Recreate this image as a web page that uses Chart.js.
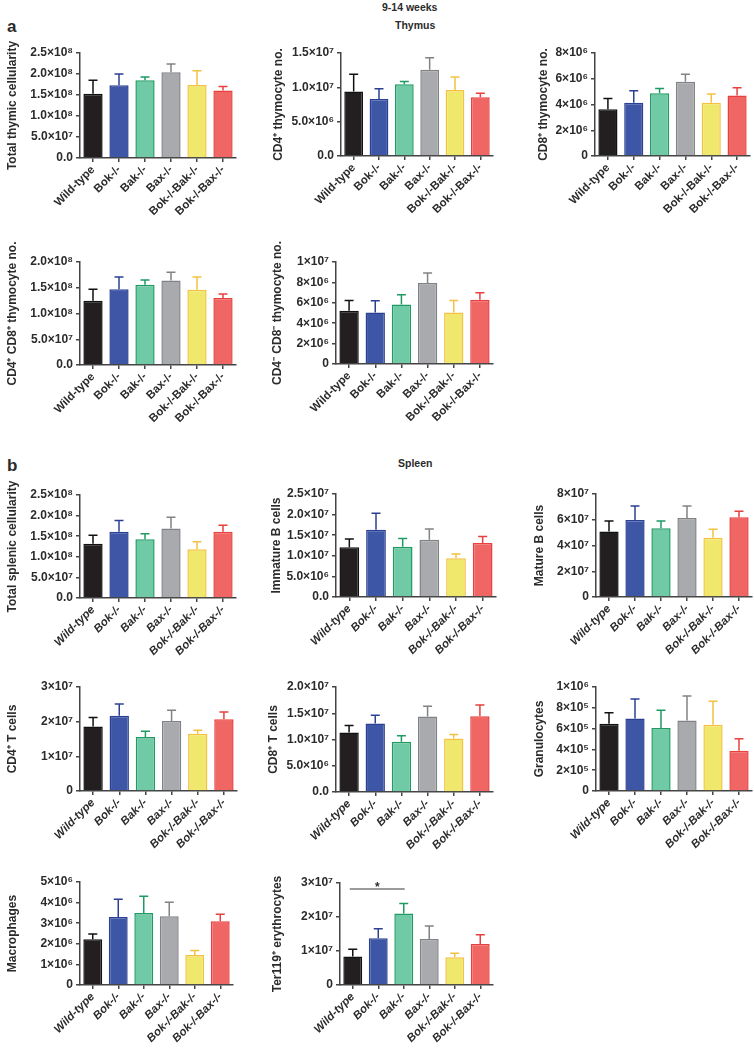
<!DOCTYPE html>
<html>
<head>
<meta charset="utf-8">
<script src="https://cdn.jsdelivr.net/npm/chart.js@4.4.1/dist/chart.umd.min.js"></script>
<style>
  body { margin: 0; background: #fff; width: 754px; height: 1049px; position: relative; overflow: hidden;
         font-family: "Liberation Sans", Arial, sans-serif; }
  .panel { position: absolute; }
  .lbl { position: absolute; font-weight: bold; color: #2b2b2b; line-height: 1; white-space: nowrap; }
</style>
</head>
<body>
<div class="lbl" style="left:7px;top:18px;font-size:17px;">a</div>
<div class="lbl" style="left:382px;top:2px;font-size:10.5px;">9-14 weeks</div>
<div class="lbl" style="left:395px;top:20px;font-size:10.5px;">Thymus</div>
<div class="lbl" style="left:7px;top:457px;font-size:17px;">b</div>
<div class="lbl" style="left:398px;top:458px;font-size:10.5px;">Spleen</div>

<script>
// ---- data ----
const genotypes = ["Wild-type", "Bok-/-", "Bak-/-", "Bax-/-", "Bok-/-Bak-/-", "Bok-/-Bax-/-"];

// a: thymus
const thymusTotalMean = [1.53e8, 1.73e8, 1.85e8, 2.04e8, 1.74e8, 1.61e8];
const thymusTotalSem  = [0.32e8, 0.27e8, 0.08e8, 0.2e8, 0.34e8, 0.09e8];
const thymusTotalTicks = ["0.0", "5.0×10⁷", "1.0×10⁸", "1.5×10⁸", "2.0×10⁸", "2.5×10⁸"];

const thymusCd4Mean = [0.94e7, 0.83e7, 1.045e7, 1.255e7, 0.96e7, 0.855e7];
const thymusCd4Sem  = [0.25e7, 0.15e7, 0.04e7, 0.175e7, 0.19e7, 0.06e7];
const thymusCd4Ticks = ["0.0", "5.0×10⁶", "1.0×10⁷", "1.5×10⁷"];

const thymusCd8Mean = [3.64e6, 4.13e6, 4.88e6, 5.77e6, 4.13e6, 4.70e6];
const thymusCd8Sem  = [0.83e6, 0.93e6, 0.37e6, 0.57e6, 0.68e6, 0.60e6];
const thymusCd8Ticks = ["0", "2×10⁶", "4×10⁶", "6×10⁶", "8×10⁶"];

const thymusDpMean = [1.25e8, 1.47e8, 1.56e8, 1.64e8, 1.46e8, 1.30e8];
const thymusDpSem  = [0.22e8, 0.24e8, 0.09e8, 0.16e8, 0.25e8, 0.08e8];
const thymusDpTicks = ["0.0", "5.0×10⁷", "1.0×10⁸", "1.5×10⁸", "2.0×10⁸"];

const thymusDnMean = [5.23e6, 5.06e6, 5.84e6, 7.95e6, 5.06e6, 6.30e6];
const thymusDnSem  = [1.0e6, 1.14e6, 0.95e6, 0.98e6, 1.17e6, 0.68e6];
const thymusDnTicks = ["0", "2×10⁶", "4×10⁶", "6×10⁶", "8×10⁶", "1×10⁷"];

// b: spleen
const spleenTotalMean = [1.315e8, 1.605e8, 1.427e8, 1.685e8, 1.185e8, 1.605e8];
const spleenTotalSem  = [0.21e8, 0.275e8, 0.13e8, 0.275e8, 0.18e8, 0.16e8];
const spleenTotalTicks = ["0.0", "5.0×10⁷", "1.0×10⁸", "1.5×10⁸", "2.0×10⁸", "2.5×10⁸"];

const immBMean = [1.205e7, 1.634e7, 1.222e7, 1.392e7, 0.938e7, 1.31e7];
const immBSem  = [0.2e7, 0.4e7, 0.2e7, 0.26e7, 0.106e7, 0.16e7];
const immBTicks = ["0.0", "5.0×10⁶", "1.0×10⁷", "1.5×10⁷", "2.0×10⁷", "2.5×10⁷"];

const matBMean = [5.08e7, 5.98e7, 5.34e7, 6.14e7, 4.61e7, 6.19e7];
const matBSem  = [0.82e7, 1.09e7, 0.56e7, 0.93e7, 0.65e7, 0.47e7];
const matBTicks = ["0", "2×10⁷", "4×10⁷", "6×10⁷", "8×10⁷"];

const cd4TMean = [1.86e7, 2.17e7, 1.56e7, 2.02e7, 1.65e7, 2.07e7];
const cd4TSem  = [0.26e7, 0.34e7, 0.16e7, 0.31e7, 0.10e7, 0.21e7];
const cd4TTicks = ["0", "1×10⁷", "2×10⁷", "3×10⁷"];

const cd8TMean = [1.133e7, 1.304e7, 0.956e7, 1.437e7, 1.019e7, 1.443e7];
const cd8TSem  = [0.133e7, 0.158e7, 0.114e7, 0.196e7, 0.076e7, 0.215e7];
const cd8TTicks = ["0.0", "5.0×10⁶", "1.0×10⁷", "1.5×10⁷", "2.0×10⁷"];

const granMean = [6.47e5, 6.96e5, 6.06e5, 6.79e5, 6.38e5, 3.88e5];
const granSem  = [1.06e5, 1.89e5, 1.70e5, 2.34e5, 2.24e5, 1.15e5];
const granTicks = ["0", "2×10⁵", "4×10⁵", "6×10⁵", "8×10⁵", "1×10⁶"];

const macMean = [2.22e6, 3.30e6, 3.50e6, 3.34e6, 1.46e6, 3.10e6];
const macSem  = [0.26e6, 0.86e6, 0.81e6, 0.68e6, 0.21e6, 0.34e6];
const macTicks = ["0", "1×10⁶", "2×10⁶", "3×10⁶", "4×10⁶", "5×10⁶"];

const terMean = [0.837e7, 1.373e7, 2.1e7, 1.353e7, 0.818e7, 1.207e7];
const terSem  = [0.213e7, 0.282e7, 0.295e7, 0.38e7, 0.117e7, 0.273e7];
const terTicks = ["0", "1×10⁷", "2×10⁷", "3×10⁷"];
// significance bracket: from group, to group, height, label
const terSig = [0, 2, 2.82e7, "*"];

// ---- styles ----
const fillColors   = ["#231f20", "#3d56a6", "#70caa6", "#a8aaad", "#efe86c", "#ef6664"];
const borderColors = ["#111111", "#2c4093", "#1f9a63", "#808285", "#f4c242", "#e8403d"];
const FONT = "'Liberation Sans', Arial, sans-serif";
const INK = "#2b2b2b";

/* panel layout (pixel positions of title centre, y axis, top tick, zero, right end) */
const panels = [
  { mean: thymusTotalMean, sem: thymusTotalSem, ticks: thymusTotalTicks, step: 5e7, title: "Total thymic cellularity", italic: false, titleX: 12, axisX: 80, topY: 53, zeroY: 158, right: 236 },
  { mean: thymusCd4Mean, sem: thymusCd4Sem, ticks: thymusCd4Ticks, step: 5e6, title: "CD4⁺ thymocyte no.", italic: false, titleX: 278, axisX: 341, topY: 53, zeroY: 156, right: 493 },
  { mean: thymusCd8Mean, sem: thymusCd8Sem, ticks: thymusCd8Ticks, step: 2e6, title: "CD8⁺ thymocyte no.", italic: false, titleX: 543, axisX: 595, topY: 53, zeroY: 156, right: 750 },
  { mean: thymusDpMean, sem: thymusDpSem, ticks: thymusDpTicks, step: 5e7, title: "CD4⁺ CD8⁺ thymocyte no.", italic: false, titleX: 12, axisX: 80, topY: 262, zeroY: 365, right: 236 },
  { mean: thymusDnMean, sem: thymusDnSem, ticks: thymusDnTicks, step: 2e6, title: "CD4⁻ CD8⁻ thymocyte no.", italic: false, titleX: 277, axisX: 336, topY: 262, zeroY: 364, right: 493 },
  { mean: spleenTotalMean, sem: spleenTotalSem, ticks: spleenTotalTicks, step: 5e7, title: "Total splenic cellularity", italic: true, titleX: 12, axisX: 80, topY: 495, zeroY: 598, right: 236 },
  { mean: immBMean, sem: immBSem, ticks: immBTicks, step: 5e6, title: "Immature B cells", italic: true, titleX: 276, axisX: 336, topY: 494, zeroY: 597, right: 496 },
  { mean: matBMean, sem: matBSem, ticks: matBTicks, step: 2e7, title: "Mature B cells", italic: true, titleX: 539, axisX: 596, topY: 494, zeroY: 597, right: 752 },
  { mean: cd4TMean, sem: cd4TSem, ticks: cd4TTicks, step: 1e7, title: "CD4⁺ T cells", italic: true, titleX: 12, axisX: 80, topY: 687, zeroY: 791, right: 237 },
  { mean: cd8TMean, sem: cd8TSem, ticks: cd8TTicks, step: 5e6, title: "CD8⁺ T cells", italic: true, titleX: 273, axisX: 336, topY: 687, zeroY: 792, right: 493 },
  { mean: granMean, sem: granSem, ticks: granTicks, step: 2e5, title: "Granulocytes", italic: true, titleX: 539, axisX: 596, topY: 687, zeroY: 791, right: 752 },
  { mean: macMean, sem: macSem, ticks: macTicks, step: 1e6, title: "Macrophages", italic: true, titleX: 12, axisX: 80, topY: 882, zeroY: 985, right: 233 },
  { mean: terMean, sem: terSem, ticks: terTicks, step: 1e7, title: "Ter119⁺ erythrocytes", italic: true, titleX: 277, axisX: 340, topY: 883, zeroY: 985, right: 493, sig: terSig }
];

/* error bars: upward only, coloured like the bar outline */
const errorBars = {
  id: "errorBars",
  afterDatasetsDraw(chart) {
    const { ctx } = chart;
    const yScale = chart.scales.y;
    const ds = chart.data.datasets[0];
    ctx.save();
    ctx.lineWidth = 1.5;
    chart.getDatasetMeta(0).data.forEach((bar, i) => {
      const top = yScale.getPixelForValue(ds.data[i] + ds.sem[i]);
      ctx.strokeStyle = ds.borderColor[i];
      ctx.beginPath();
      ctx.moveTo(bar.x, bar.y);
      ctx.lineTo(bar.x, top);
      ctx.moveTo(bar.x - 4.5, top);
      ctx.lineTo(bar.x + 4.5, top);
      ctx.stroke();
    });
    ctx.restore();
  }
};

/* significance line with star */
const sigBar = {
  id: "sigBar",
  afterDraw(chart, args, opts) {
    if (!opts.data) return;
    const [from, to, value, text] = opts.data;
    const { ctx } = chart;
    const x1 = chart.scales.x.getPixelForValue(from) - 3;
    const x2 = chart.scales.x.getPixelForValue(to) + 1;
    const y = chart.scales.y.getPixelForValue(value);
    ctx.save();
    ctx.strokeStyle = "#7a7a7a";
    ctx.lineWidth = 1.5;
    ctx.beginPath();
    ctx.moveTo(x1, y);
    ctx.lineTo(x2, y);
    ctx.stroke();
    ctx.fillStyle = INK;
    ctx.font = "bold 12px " + FONT;
    ctx.textAlign = "center";
    ctx.textBaseline = "alphabetic";
    ctx.fillText(text, (x1 + x2) / 2, y + 2);
    ctx.restore();
  }
};

const X_AXIS_H = 64;
const PAD_TOP = 36;

panels.forEach((p) => {
  const left = Math.round(p.titleX - 9.2);
  const yWidth = p.axisX - left;
  const top = p.topY - PAD_TOP;
  const width = p.right - left + 4;
  const height = p.zeroY - p.topY + PAD_TOP + X_AXIS_H;

  const wrap = document.createElement("div");
  wrap.className = "panel";
  wrap.style.left = left + "px";
  wrap.style.top = top + "px";
  const canvas = document.createElement("canvas");
  canvas.width = width;
  canvas.height = height;
  wrap.appendChild(canvas);
  document.body.appendChild(wrap);

  new Chart(canvas, {
    type: "bar",
    data: {
      labels: genotypes,
      datasets: [{
        data: p.mean,
        sem: p.sem,
        backgroundColor: fillColors,
        borderColor: borderColors,
        borderWidth: 1.5,
        borderSkipped: "bottom",
        barPercentage: 0.74,
        categoryPercentage: 1.0
      }]
    },
    options: {
      responsive: false,
      animation: false,
      layout: { padding: { top: PAD_TOP, right: 4, left: 0, bottom: 0 } },
      plugins: {
        legend: { display: false },
        tooltip: { enabled: false },
        sigBar: { data: p.sig || null }
      },
      scales: {
        x: {
          offset: true,
          grid: { display: true, offset: false, drawOnChartArea: false, drawTicks: true, tickLength: 4, color: "#444", lineWidth: 1.5 },
          border: { display: true, color: "#444", width: 1.5 },
          ticks: {
            autoSkip: false, maxRotation: 45, minRotation: 45, padding: 1, color: INK,
            font: { family: FONT, size: 11.5, weight: "bold", style: p.italic ? "italic" : "normal" }
          },
          afterFit: (s) => { s.height = X_AXIS_H; }
        },
        y: {
          min: 0,
          max: p.step * (p.ticks.length - 1),
          grid: { display: true, drawOnChartArea: false, drawTicks: true, tickLength: 4, color: "#444", lineWidth: 1.5 },
          border: { display: true, color: "#444", width: 1.5 },
          ticks: {
            stepSize: p.step, autoSkip: false, padding: 3, color: INK,
            font: { family: FONT, size: 12, weight: "bold" },
            callback: (v, i) => p.ticks[i]
          },
          title: {
            display: true, text: p.title, color: INK, padding: { top: 2, bottom: 0 },
            font: { family: FONT, size: 12, weight: "bold" }
          },
          afterFit: (s) => { s.width = yWidth; }
        }
      }
    },
    plugins: [errorBars, sigBar]
  });
});
</script>
</body>
</html>
